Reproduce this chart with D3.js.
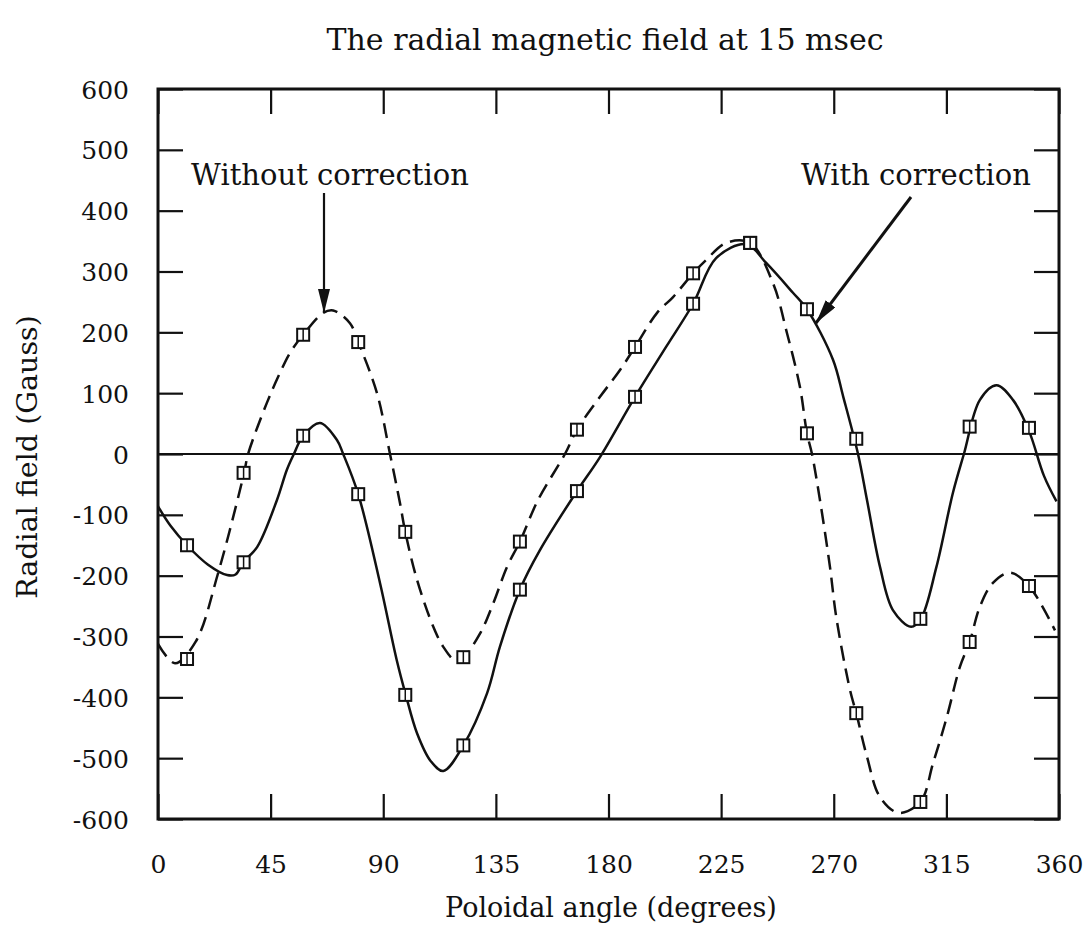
<!DOCTYPE html>
<html>
<head>
<meta charset="utf-8">
<script src="https://cdn.jsdelivr.net/npm/d3@7/dist/d3.min.js"></script>
<style>
  html, body { margin: 0; padding: 0; background: #fff; }
  svg { display: block; }
  text { font-family: "DejaVu Serif", serif; fill: #111; }
</style>
</head>
<body>
<svg id="chart" width="1088" height="947"></svg>
<script>
// ---- Data ----
const xTicks = [0, 45, 90, 135, 180, 225, 270, 315, 360];
const yTicks = [600, 500, 400, 300, 200, 100, 0, -100, -200, -300, -400, -500, -600];

// probe positions (degrees) and measured values (Gauss)
const probeAngles = [11.6, 34.2, 58, 80, 98.8, 122, 144.6, 167.4, 190.6, 213.8, 236.6, 259.3, 279, 304.6, 324.3, 348];
const withoutValues = [-337, -31, 196, 184, -128, -334, -144, 40, 176, 297, 347, 34, -426, -572, -309, -217];
const withValues = [-150, -178, 30, -66, -396, -479, -223, -61, 94, 247, 347, 238, 25, -271, 45, 43];

// fitted curve "With correction" (solid)
const withCurveX = [0, 5, 11.6, 20, 27.6, 31, 34, 39.6, 47.5, 51.5, 54.3, 58, 64.7, 71.5, 74, 80, 88.7, 95.4, 99, 103.5, 109, 114, 122, 131.5, 136.6, 144.6, 152.6, 167.4, 176.6, 190.6, 203, 213.8, 223, 235, 243, 253.7, 259.3, 269.7, 273.8, 279.7, 283.3, 288.5, 293.7, 300.9, 304.8, 311, 317.6, 322, 328.4, 335, 341.6, 348, 354, 359];
const withCurveY = [-86, -118, -150, -182, -199, -198, -178, -153, -76, -26, 0, 30, 51, 23, 0, -66, -212, -339, -396, -459, -505, -521, -479, -393, -317, -223, -158, -61, -5, 94, 176, 247, 322, 345, 314, 265, 238, 155, 94, 0, -76, -186, -257, -284, -271, -186, -64, 0, 89, 113, 89, 38, -36, -78];

// fitted curve "Without correction" (dashed)
const withoutCurveX = [0, 6.8, 15, 24, 34.4, 36, 43.5, 48.7, 52.7, 58, 66, 70, 76.7, 80, 87.5, 92.7, 96.7, 98.8, 103.5, 110, 114, 118.7, 122, 128.7, 134, 139.4, 144.6, 151.8, 162.6, 167.4, 176.6, 184.6, 190.6, 199.4, 205.8, 213.8, 219, 227, 236.6, 245.7, 251.3, 256.5, 259.3, 261.3, 264.5, 268.5, 271, 276.5, 279, 283.3, 288.5, 296, 304.6, 309.7, 315.2, 320.4, 324.3, 328.4, 333.6, 340.4, 348, 358.4];
const withoutCurveY = [-312, -344, -309, -196, -31, 0, 84, 133, 166, 196, 232, 236, 215, 184, 100, 0, -81, -128, -207, -284, -317, -339, -334, -295, -245, -186, -144, -76, 0, 40, 94, 138, 176, 232, 258, 297, 319, 347, 347, 281, 199, 110, 34, 0, -76, -186, -268, -388, -426, -498, -564, -590, -572, -508, -432, -350, -309, -251, -212, -195, -217, -290];

// ---- Layout ----
const svg = d3.select("#chart");
const L = 158, R = 1059, T = 89, B = 819;
const x = d3.scaleLinear().domain([0, 360]).range([L, R]);
const y = d3.scaleLinear().domain([-600, 600]).range([B, T]);
const fmt = d => String(d);   // plain hyphen-minus as in the reference

// title
svg.append("text").attr("x", 605).attr("y", 50).attr("text-anchor", "middle")
  .attr("font-size", 30).text("The radial magnetic field at 15 msec");

// axes (ticks inward, labels outside)
const tickLen = 25;
const axB = svg.append("g").attr("transform", `translate(0,${B})`)
  .call(d3.axisBottom(x).tickValues(xTicks).tickSize(-tickLen).tickPadding(36).tickFormat(fmt));
const axT = svg.append("g").attr("transform", `translate(0,${T})`)
  .call(d3.axisTop(x).tickValues(xTicks).tickSize(-tickLen).tickFormat(""));
const axL = svg.append("g").attr("transform", `translate(${L},0)`)
  .call(d3.axisLeft(y).tickValues(yTicks).tickSize(-tickLen).tickPadding(29).tickFormat(fmt));
const axR = svg.append("g").attr("transform", `translate(${R},0)`)
  .call(d3.axisRight(y).tickValues(yTicks).tickSize(-tickLen).tickFormat(""));

[axB, axT, axL, axR].forEach(g => {
  g.select(".domain").remove();
  g.selectAll(".tick line").attr("stroke", "#111").attr("stroke-width", 2.2);
  g.selectAll(".tick text").attr("font-family", "DejaVu Serif, serif").attr("font-size", 25).attr("fill", "#111");
});
axL.selectAll(".tick text").attr("dy", "0.36em");

// frame
svg.append("rect").attr("x", L).attr("y", T).attr("width", R - L).attr("height", B - T)
  .attr("fill", "none").attr("stroke", "#111").attr("stroke-width", 3);

// zero line
svg.append("line").attr("x1", L).attr("x2", R).attr("y1", y(0)).attr("y2", y(0))
  .attr("stroke", "#111").attr("stroke-width", 2);

// axis labels
svg.append("text").attr("x", 611).attr("y", 917).attr("text-anchor", "middle")
  .attr("font-size", 27).text("Poloidal angle (degrees)");
svg.append("text").attr("transform", "translate(37,457) rotate(-90)").attr("text-anchor", "middle")
  .attr("font-size", 28.5).text("Radial field (Gauss)");

// curves
const line = d3.line().x(d => x(d[0])).y(d => y(d[1])).curve(d3.curveCatmullRom.alpha(0.5));
const withPts = withCurveX.map((v, i) => [v, withCurveY[i]]);
const withoutPts = withoutCurveX.map((v, i) => [v, withoutCurveY[i]]);

svg.append("path").datum(withPts).attr("d", line)
  .attr("fill", "none").attr("stroke", "#111").attr("stroke-width", 2.5);
svg.append("path").datum(withoutPts).attr("d", line)
  .attr("fill", "none").attr("stroke", "#111").attr("stroke-width", 2.5)
  .attr("stroke-dasharray", "15,8");

// markers
const ms = 12;
function drawMarkers(vals) {
  const g = svg.append("g");
  const m = g.selectAll("g").data(probeAngles.map((a, i) => [a, vals[i]])).join("g")
    .attr("transform", d => `translate(${x(d[0])},${y(d[1])})`);
  m.append("rect").attr("x", -ms / 2).attr("y", -ms / 2).attr("width", ms).attr("height", ms)
    .attr("fill", "#fff").attr("stroke", "#111").attr("stroke-width", 2);
  m.append("line").attr("x1", 0).attr("x2", 0).attr("y1", -ms / 2).attr("y2", ms / 2)
    .attr("stroke", "#111").attr("stroke-width", 1.5);
}
drawMarkers(withoutValues);
drawMarkers(withValues);

// annotations
const defs = svg.append("defs");
defs.append("marker").attr("id", "ah").attr("viewBox", "0 0 24 12").attr("refX", 24).attr("refY", 6)
  .attr("markerWidth", 24).attr("markerHeight", 12).attr("markerUnits", "userSpaceOnUse")
  .attr("orient", "auto")
  .append("path").attr("d", "M0,0 L24,6 L0,12 Z").attr("fill", "#111");

svg.append("text").attr("x", 330).attr("y", 185).attr("text-anchor", "middle")
  .attr("font-size", 29).text("Without correction");
svg.append("line").attr("x1", 324).attr("y1", 193).attr("x2", 324).attr("y2", 313)
  .attr("stroke", "#111").attr("stroke-width", 2.2).attr("marker-end", "url(#ah)");

svg.append("text").attr("x", 916).attr("y", 185).attr("text-anchor", "middle")
  .attr("font-size", 29).text("With correction");
svg.append("line").attr("x1", 911).attr("y1", 197).attr("x2", 816).attr("y2", 323)
  .attr("stroke", "#111").attr("stroke-width", 3).attr("marker-end", "url(#ah)");
</script>
</body>
</html>
